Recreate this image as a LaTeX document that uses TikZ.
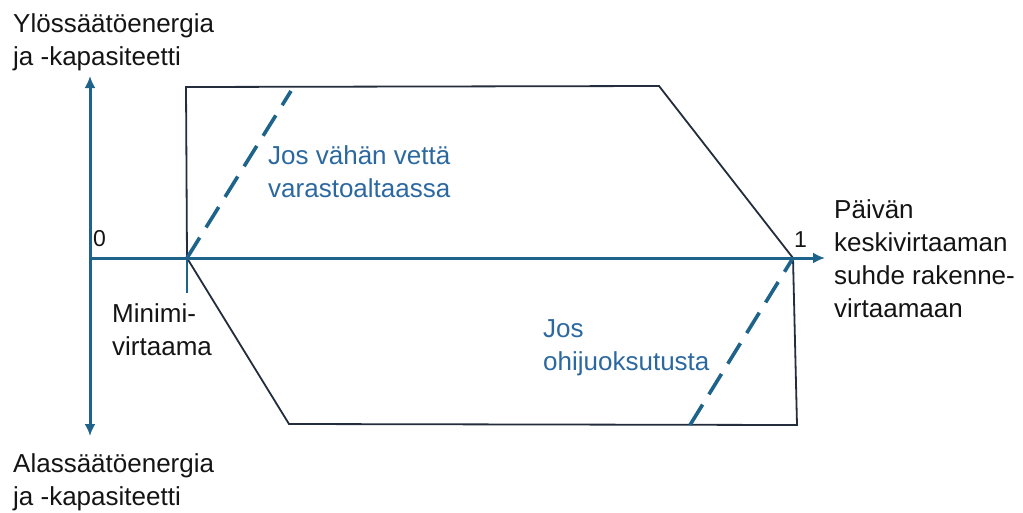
\documentclass[tikz,border=0pt]{standalone}
\usepackage{fontspec}
\setmainfont{Liberation Sans}
\usetikzlibrary{arrows.meta}
\definecolor{axisblue}{RGB}{30,100,138}
\definecolor{textblue}{RGB}{44,104,160}
\definecolor{edgedark}{RGB}{35,45,60}
\definecolor{ink}{RGB}{20,20,20}
\begin{document}
\begin{tikzpicture}[x=1pt,y=-1pt,
  lbl/.style={inner sep=0pt, anchor=base west, align=left, font=\fontsize{26}{33}\selectfont, text=ink},
  numlbl/.style={lbl, font=\fontsize{23}{26}\selectfont},
  bluelbl/.style={lbl, text=textblue},
  axisline/.style={draw=axisblue, line width=3pt},
  axisarrow/.style={axisline, -{Latex[length=12pt,width=11pt]}},
  edge/.style={draw=edgedark, line width=1.8pt, line join=miter},
  dashline/.style={draw=axisblue, line width=3.6pt, dash pattern=on 24pt off 12pt},
  tick/.style={draw=axisblue, line width=2pt}]
\useasboundingbox (0,0) rectangle (1023,512);
% coordinates
\coordinate (O) at (90,258);
\coordinate (ytop) at (90,76);
\coordinate (ybot) at (90,436);
\coordinate (xend) at (825,258);
\coordinate (minP) at (187,258);
\coordinate (minTick) at (187,293);
\coordinate (oneP) at (793,258);
\coordinate (upTL) at (186,87);
\coordinate (upTR) at (659,86);
\coordinate (loBL) at (289,424);
\coordinate (loBR) at (797,425);
\coordinate (dashUpEnd) at (291,91);
\coordinate (dashLoStart) at (690,425);
% polygons
\draw[edge] (minP) -- (upTL) -- (upTR) -- (oneP);
\draw[edge] (minP) -- (loBL) -- (loBR) -- (oneP);
% dashed lines
\draw[dashline] (minP) -- (dashUpEnd);
\draw[dashline] (dashLoStart) -- (oneP);
% axes
\draw[axisarrow] (O) -- (ytop);
\draw[axisarrow] (O) -- (ybot);
\draw[axisarrow] (O) -- (xend);
\draw[tick] (minP) -- (minTick);
% labels (anchor = baseline of last line)
\node[lbl] (ylos) at (13,65) {Ylössäätöenergia\\ja -kapasiteetti};
\node[lbl] (alas) at (13,505) {Alassäätöenergia\\ja -kapasiteetti};
\node[numlbl] (zero) at (93,246) {0};
\node[numlbl] (one) at (794,247) {1};
\node[lbl] (minimi) at (112,355) {Minimi-\\virtaama};
\node[bluelbl] (vahan) at (268,197) {Jos vähän vettä\\varastoaltaassa};
\node[bluelbl] (ohi) at (543,370) {Jos\\ohijuoksutusta};
\node[lbl] (paivan) at (834,317) {Päivän\\keskivirtaaman\\suhde rakenne-\\virtaamaan};
\end{tikzpicture}
\end{document}
